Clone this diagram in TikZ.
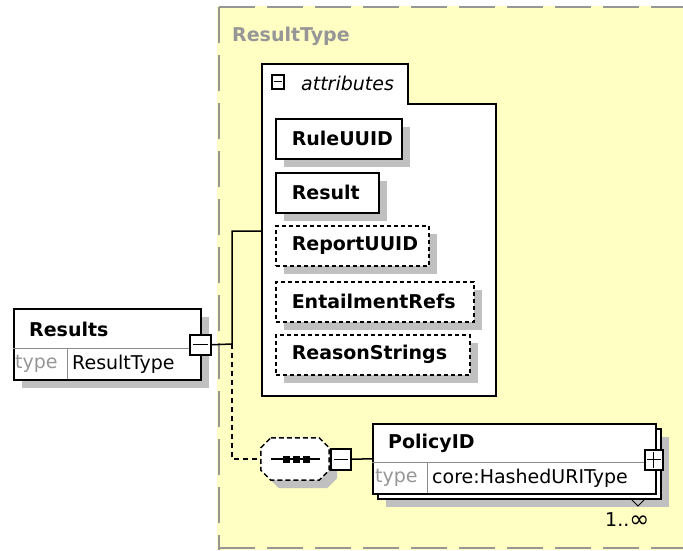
\documentclass[tikz,border=0pt]{standalone}
\usepackage{fontspec}
\setmainfont{DejaVu Sans}
\usetikzlibrary{shadows}
\definecolor{bgyellow}{RGB}{255,255,196}
\definecolor{shadowgrey}{RGB}{192,192,192}
\definecolor{bordergrey}{RGB}{150,150,150}
\definecolor{typegrey}{RGB}{150,150,150}
\newcommand{\lblbox}[2]{\makebox[#1pt][l]{#2}}
\begin{document}
\begin{tikzpicture}[x=1pt,y=-1pt,
  fnt/.style={font=\fontsize{19}{23}\selectfont},
  bfnt/.style={font=\fontsize{19}{23}\selectfont\bfseries},
  shad/.style={drop shadow={shadow xshift=8pt,shadow yshift=-8pt,fill=shadowgrey,opacity=1}},
  elem/.style={draw,line width=1.5pt,fill=white,minimum height=40pt,inner xsep=16pt,inner ysep=0pt,anchor=north west,bfnt,shad},
  optelem/.style={elem,dash pattern=on 4pt off 3pt},
  txt/.style={inner sep=0pt,anchor=west,fnt},
  iconbox/.style={draw,line width=1.5pt,fill=white,inner sep=0pt,anchor=north west},
  conn/.style={line width=1.5pt},
  optconn/.style={line width=1.5pt,dash pattern=on 5pt off 4pt}]
\useasboundingbox (0,0) rectangle (683,550);
% type area background
\fill[bgyellow] (217,6) rectangle (683,550);
\draw[bordergrey,line width=2pt,dash pattern=on 36pt off 12pt] (219,7) -- (683,7);
\draw[bordergrey,line width=2pt,dash pattern=on 36pt off 12pt] (219,7) -- (219,550);
\draw[bordergrey,line width=1.5pt,dash pattern=on 36pt off 12pt] (219,548) -- (683,548);
\node[inner sep=0pt,anchor=west,bfnt,text=bordergrey] (typelabel) at (232,36) {ResultType};

% attributes container
\draw[line width=1.5pt,fill=white] (262,64) -- (408,64) -- (408,104) -- (496,104) -- (496,396) -- (262,396) -- cycle;
\node[iconbox,minimum width=12pt,minimum height=14pt] (attrminus) at (271,74) {};
\draw[line width=1.2pt] ([xshift=2.5pt]attrminus.west) -- ([xshift=-2.5pt]attrminus.east);
\node[txt,font=\fontsize{19}{23}\selectfont\itshape] (attrlabel) at (301,83) {attributes};
\coordinate (attrin) at (262,231);

% attributes
\node[elem] (rule) at (275,118) {\lblbox{94}{RuleUUID}};
\node[elem] (result) at (275,172) {\lblbox{71}{Result}};
\node[optelem] (report) at (275,225) {\lblbox{121}{ReportUUID}};
\node[optelem] (entail) at (275,281) {\lblbox{166}{EntailmentRefs}};
\node[optelem] (reason) at (275,334) {\lblbox{162}{ReasonStrings}};

% Results element
\node[draw,line width=1.5pt,fill=white,minimum width=187pt,minimum height=71pt,inner sep=0pt,anchor=north west,shad] (results) at (13,308) {};
\draw[line width=1pt,black!45] (13,348) -- (200,348);
\draw[line width=1pt,black!45] (67,348) -- (67,379);
\node[txt,bfnt] (resname) at (29,329) {Results};
\node[txt,text=typegrey] (restypek) at (15,364) {type};
\node[txt] (restypev) at (72,364) {ResultType};
\node[iconbox,minimum width=21pt,minimum height=20pt] (resminus) at (189,334) {};
\draw[line width=1.2pt] ([xshift=4pt]resminus.west) -- ([xshift=-4pt]resminus.east);

% sequence compositor
\node[minimum width=68pt,minimum height=42pt,inner sep=0pt] (seq) at (295,459) {};
\fill[shadowgrey,transform canvas={xshift=8pt,yshift=-8pt}] ([xshift=10pt]seq.north west) -- ([xshift=-10pt]seq.north east) -- ([yshift=-10pt]seq.north east) -- ([yshift=10pt]seq.south east) -- ([xshift=-10pt]seq.south east) -- ([xshift=10pt]seq.south west) -- ([yshift=10pt]seq.south west) -- ([yshift=-10pt]seq.north west) -- cycle;
\draw[line width=1.5pt,dash pattern=on 5pt off 3pt,fill=white] ([xshift=10pt]seq.north west) -- ([xshift=-10pt]seq.north east) -- ([yshift=-10pt]seq.north east) -- ([yshift=10pt]seq.south east) -- ([xshift=-10pt]seq.south east) -- ([xshift=10pt]seq.south west) -- ([yshift=10pt]seq.south west) -- ([yshift=-10pt]seq.north west) -- cycle;
\draw[line width=1.5pt] (271,459) -- (320,459);
\foreach \dx in {286,296,306} \fill (\dx-3.5,455.5) rectangle (\dx+3.5,462.5);
\node[iconbox,minimum width=20pt,minimum height=21pt] (seqminus) at (330,448) {};
\draw[line width=1.2pt] ([xshift=4pt]seqminus.west) -- ([xshift=-4pt]seqminus.east);

% PolicyID element (multiple)
\node[draw,line width=1.5pt,fill=white,minimum width=283pt,minimum height=70pt,inner sep=0pt,anchor=north west,shad] (policyback) at (377,428) {};
\node[draw,line width=1.5pt,fill=white,minimum width=283pt,minimum height=70pt,inner sep=0pt,anchor=north west] (policy) at (372,423) {};
\draw[line width=1pt,black!45] (372,462) -- (655,462);
\draw[line width=1pt,black!45] (427,462) -- (427,493);
\node[txt,bfnt] (polname) at (388,443) {PolicyID};
\node[txt,text=typegrey] (poltypek) at (375,478) {type};
\node[txt] (poltypev) at (432,478) {core:HashedURIType};
\node[iconbox,minimum width=18pt,minimum height=20pt] (polplus) at (644,449) {};
\draw[line width=1.2pt] ([xshift=3pt]polplus.west) -- ([xshift=-3pt]polplus.east);
\draw[line width=1.2pt] ([yshift=-3pt]polplus.north) -- ([yshift=3pt]polplus.south);
\draw[line width=1pt] (630,498) -- (638,506) -- (646,498);
\node[txt] (polcard) at (605,520) {1..\raisebox{-1pt}{\fontsize{24}{24}\selectfont ∞}};

% connectors
\coordinate (junc) at (232,344);
\draw[conn] (resminus.east) -- (junc) |- (attrin);
\draw[optconn] (junc) |- (seq.west);
\draw[conn] (seqminus.east) -- (policy.west);
\end{tikzpicture}
\end{document}
